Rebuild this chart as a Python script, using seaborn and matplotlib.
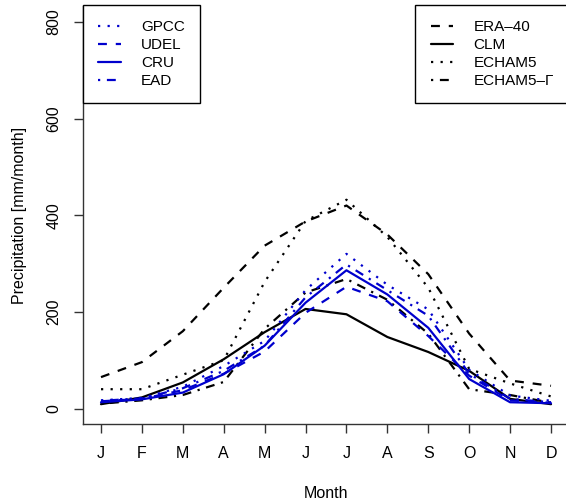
import matplotlib
matplotlib.use("Agg")
import matplotlib.pyplot as plt
import seaborn as sns
import numpy as np

months = ["J", "F", "M", "A", "M", "J", "J", "A", "S", "O", "N", "D"]
month_idx = np.arange(1, 13)

# observations (blue)
gpcc = [17, 22, 45, 88, 140, 245, 320, 256, 205, 80, 27, 16]
udel = [15, 20, 38, 72, 118, 198, 252, 222, 150, 68, 17, 12]
cru = [13, 19, 33, 71, 130, 219, 286, 236, 167, 61, 13, 11]
ead = [16, 21, 42, 78, 130, 230, 298, 245, 192, 72, 20, 13]

# models / reanalysis (black)
era40 = [65, 96, 160, 250, 337, 387, 420, 360, 278, 155, 58, 47]
clm = [9, 23, 54, 102, 158, 206, 195, 148, 117, 78, 20, 9]
echam5 = [40, 40, 70, 100, 262, 388, 432, 355, 250, 82, 52, 25]
echam5_g = [10, 17, 28, 55, 165, 240, 268, 225, 155, 40, 28, 12]

sns.set_style("ticks")
plt.rcParams["font.family"] = ["Liberation Sans", "DejaVu Sans"]
plt.rcParams["text.color"] = "black"
plt.rcParams["axes.labelcolor"] = "black"
plt.rcParams["xtick.color"] = "black"
plt.rcParams["ytick.color"] = "black"

dotted = (0, (1, 3.3))
dashed = (0, (4, 4))
dashdot = (0, (1, 3, 4, 3))
blue = "#0000CD"

fig = plt.figure(figsize=(5.66, 5.01), dpi=100)
ax = fig.add_axes([83 / 566, 1 - 424 / 501, 486 / 566, 417.6 / 501])

obs = [("GPCC", gpcc, dotted), ("UDEL", udel, dashed),
       ("CRU", cru, "-"), ("EAD", ead, dashdot)]
mods = [("ERA\u201340", era40, dashed), ("CLM", clm, "-"),
        ("ECHAM5", echam5, dotted), ("ECHAM5\u2013\u0393", echam5_g, dashdot)]

h_obs = []
h_mod = []
for name, vals, ls in mods:
    sns.lineplot(x=month_idx, y=vals, ax=ax, color="black", linestyle=ls,
                 linewidth=1.6, dash_capstyle="butt")
    h_mod.append(ax.lines[-1])
    h_mod[-1].set_label(name)
for name, vals, ls in obs:
    sns.lineplot(x=month_idx, y=vals, ax=ax, color=blue, linestyle=ls,
                 linewidth=1.6, dash_capstyle="butt")
    h_obs.append(ax.lines[-1])
    h_obs[-1].set_label(name)

ax.set_xlim(0.56, 12.44)
ax.set_ylim(-32, 832)
ax.set_xticks(month_idx)
ax.set_xticklabels(months)
ax.set_yticks([0, 200, 400, 600, 800])
for lab in ax.get_yticklabels():
    lab.set_rotation(90)
    lab.set_va("center")
ax.tick_params(axis="both", length=6.5, width=1, color="#333333",
               labelcolor="black", labelsize=11.5, pad=9)
ax.set_xlabel("Month", fontsize=11.5, labelpad=18, color="black")
ax.set_ylabel("Precipitation [mm/month]", fontsize=11.5, labelpad=14, color="black")

sns.despine(ax=ax)
for s in ["left", "bottom"]:
    ax.spines[s].set_color("#333333")
    ax.spines[s].set_linewidth(1)

leg_kw = dict(frameon=True, fancybox=False, edgecolor="black", fontsize=11,
              borderaxespad=0, handlelength=1.5, handletextpad=1.3,
              labelspacing=0.25, borderpad=1.0, framealpha=1)
leg1 = ax.legend(handles=h_obs, loc="upper left", bbox_to_anchor=(0, 1.003), **leg_kw)
leg1.get_frame().set_linewidth(1)
ax.add_artist(leg1)
leg2 = ax.legend(handles=h_mod, loc="upper right", bbox_to_anchor=(1, 1.003), **leg_kw)
leg2.get_frame().set_linewidth(1)
for leg in (leg1, leg2):
    for t in leg.get_texts():
        t.set_color("black")

fig.savefig("out.png", dpi=100)
